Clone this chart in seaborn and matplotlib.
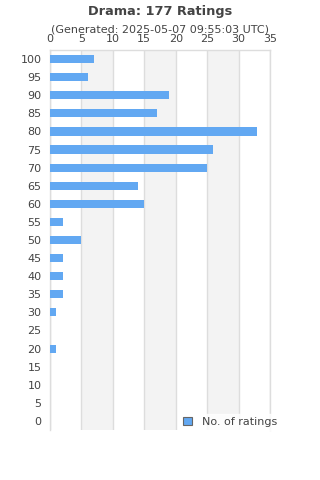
import matplotlib
matplotlib.use("Agg")
import matplotlib.pyplot as plt
import pandas as pd
import seaborn as sns
from matplotlib.patches import Patch

# ratings buckets, top to bottom as shown
scores = ["100", "95", "90", "85", "80", "75", "70", "65", "60", "55", "50",
          "45", "40", "35", "30", "25", "20", "15", "10", "5", "0"]
counts = [7, 6, 19, 17, 33, 26, 25, 14, 15, 2, 5, 2, 2, 2, 1, 0, 1, 0, 0, 0, 0]
x_ticks = [0, 5, 10, 15, 20, 25, 30, 35]

title = "Drama: 177 Ratings"
subtitle = "(Generated: 2025-05-07 09:55:03 UTC)"

bar_color = "#62a8f2"
text_color = "#444444"
grid_color = "#dddddd"

df = pd.DataFrame({"score": scores, "count": counts})

sns.set_theme(style="white")
plt.rcParams["font.family"] = ["DejaVu Sans"]

fig = plt.figure(figsize=(3.2, 4.8), dpi=100)
ax = fig.add_axes([50 / 320, 1 - 430 / 480, 220 / 320, 380 / 480])

# alternating bands
for lo in (5, 15, 25):
    ax.axvspan(lo, lo + 5, color="#f3f3f3", linewidth=0, zorder=0)

sns.barplot(data=df, x="count", y="score", order=scores, orient="h",
            color=bar_color, saturation=1, width=0.45, linewidth=0,
            ax=ax, zorder=3)

ax.set_xlim(0, 35)
ax.set_ylim(len(scores) - 0.5, -0.5)
ax.set_xticks(x_ticks)
ax.xaxis.tick_top()
ax.grid(axis="x", color=grid_color, linewidth=1, zorder=1)
ax.set_axisbelow(True)
ax.tick_params(axis="both", length=0, labelsize=8, labelcolor=text_color)
ax.tick_params(axis="x", pad=4.5)
ax.tick_params(axis="y", pad=6)
ax.set_xlabel("")
ax.set_ylabel("")
for side in ("top", "bottom", "left", "right"):
    ax.spines[side].set_color(grid_color)
    ax.spines[side].set_linewidth(1)
ax.spines["bottom"].set_visible(False)

fig.text(0.5, 1 - 11 / 480, title, ha="center", va="center",
         fontsize=9.3, fontweight="bold", color=text_color)
fig.text(0.5, 1 - 30 / 480, subtitle, ha="center", va="center",
         fontsize=8, color=text_color)

handle = Patch(facecolor=bar_color, edgecolor="#666666", linewidth=0.8)
leg = fig.legend([handle], ["No. of ratings"], loc="center left",
                 bbox_to_anchor=(174 / 320, 1 - 422 / 480), frameon=True,
                 fontsize=8, handlelength=0.8, handleheight=0.8,
                 handletextpad=0.9, borderpad=0.3, labelcolor=text_color)
leg.get_frame().set_facecolor("white")
leg.get_frame().set_edgecolor("white")

fig.savefig("out.png", dpi=100)
